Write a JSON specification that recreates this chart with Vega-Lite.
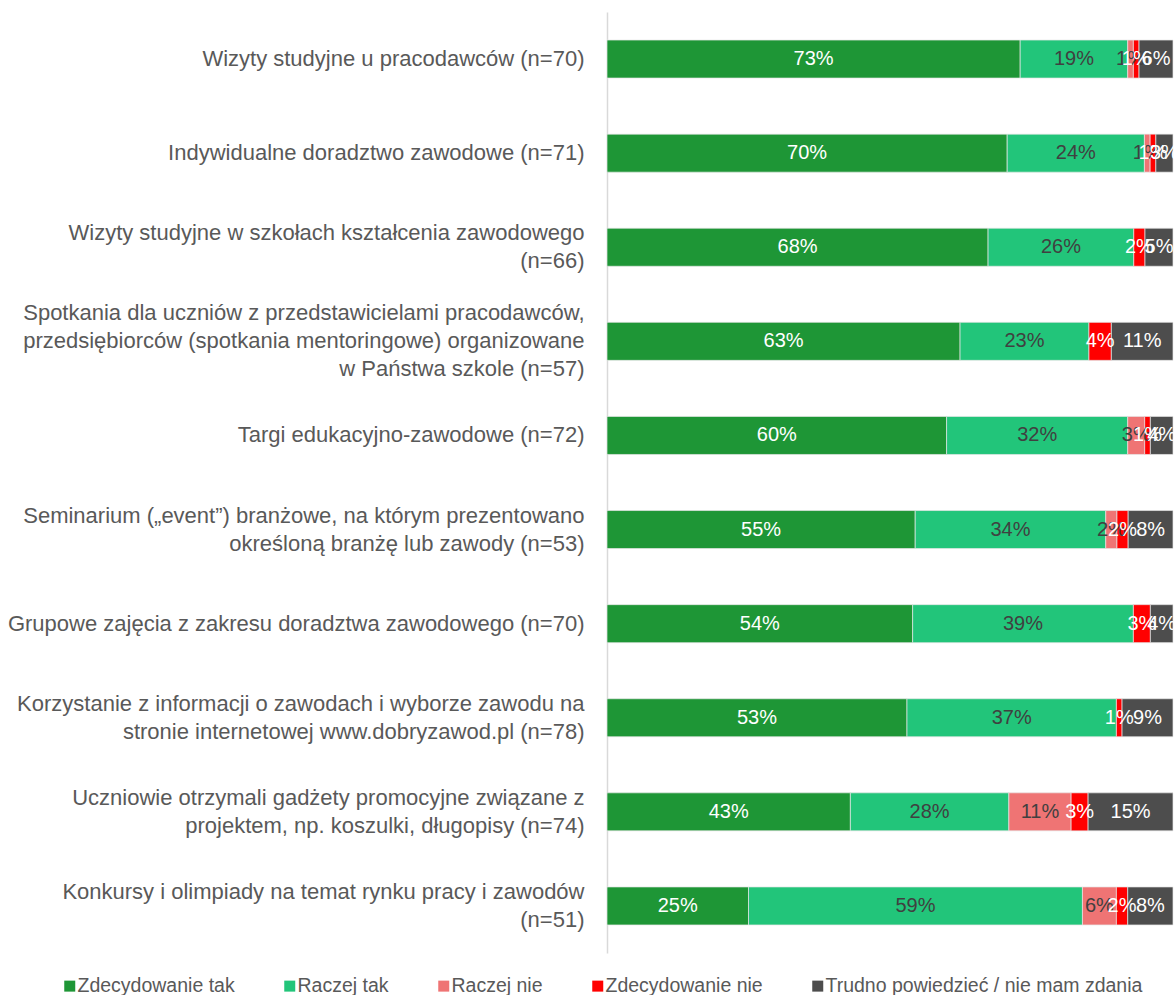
{
  "$schema": "https://vega.github.io/schema/vega-lite/v6.json",
  "width": 566,
  "height": 941,
  "autosize": "none",
  "padding": {"left": 607, "top": 12, "right": 3, "bottom": 42},
  "background": "white",
  "config": {
    "view": {"stroke": null},
    "font": "Liberation Sans",
    "text": {"font": "Liberation Sans"}
  },
  "datasets": {
    "rows": [
      {"item": "Wizyty studyjne u pracodawców (n=70)", "k": "Zdecydowanie tak", "o": 1, "v": 73},
      {"item": "Wizyty studyjne u pracodawców (n=70)", "k": "Raczej tak", "o": 2, "v": 19},
      {"item": "Wizyty studyjne u pracodawców (n=70)", "k": "Raczej nie", "o": 3, "v": 1},
      {"item": "Wizyty studyjne u pracodawców (n=70)", "k": "Zdecydowanie nie", "o": 4, "v": 1},
      {"item": "Wizyty studyjne u pracodawców (n=70)", "k": "Trudno powiedzieć / nie mam zdania", "o": 5, "v": 6},
      {"item": "Indywidualne doradztwo zawodowe (n=71)", "k": "Zdecydowanie tak", "o": 1, "v": 70},
      {"item": "Indywidualne doradztwo zawodowe (n=71)", "k": "Raczej tak", "o": 2, "v": 24},
      {"item": "Indywidualne doradztwo zawodowe (n=71)", "k": "Raczej nie", "o": 3, "v": 1},
      {"item": "Indywidualne doradztwo zawodowe (n=71)", "k": "Zdecydowanie nie", "o": 4, "v": 1},
      {"item": "Indywidualne doradztwo zawodowe (n=71)", "k": "Trudno powiedzieć / nie mam zdania", "o": 5, "v": 3},
      {"item": "Wizyty studyjne w szkołach kształcenia zawodowego\n(n=66)", "k": "Zdecydowanie tak", "o": 1, "v": 68},
      {"item": "Wizyty studyjne w szkołach kształcenia zawodowego\n(n=66)", "k": "Raczej tak", "o": 2, "v": 26},
      {"item": "Wizyty studyjne w szkołach kształcenia zawodowego\n(n=66)", "k": "Zdecydowanie nie", "o": 4, "v": 2},
      {"item": "Wizyty studyjne w szkołach kształcenia zawodowego\n(n=66)", "k": "Trudno powiedzieć / nie mam zdania", "o": 5, "v": 5},
      {"item": "Spotkania dla uczniów z przedstawicielami pracodawców,\nprzedsiębiorców (spotkania mentoringowe) organizowane\nw Państwa szkole (n=57)", "k": "Zdecydowanie tak", "o": 1, "v": 63},
      {"item": "Spotkania dla uczniów z przedstawicielami pracodawców,\nprzedsiębiorców (spotkania mentoringowe) organizowane\nw Państwa szkole (n=57)", "k": "Raczej tak", "o": 2, "v": 23},
      {"item": "Spotkania dla uczniów z przedstawicielami pracodawców,\nprzedsiębiorców (spotkania mentoringowe) organizowane\nw Państwa szkole (n=57)", "k": "Zdecydowanie nie", "o": 4, "v": 4},
      {"item": "Spotkania dla uczniów z przedstawicielami pracodawców,\nprzedsiębiorców (spotkania mentoringowe) organizowane\nw Państwa szkole (n=57)", "k": "Trudno powiedzieć / nie mam zdania", "o": 5, "v": 11},
      {"item": "Targi edukacyjno-zawodowe (n=72)", "k": "Zdecydowanie tak", "o": 1, "v": 60},
      {"item": "Targi edukacyjno-zawodowe (n=72)", "k": "Raczej tak", "o": 2, "v": 32},
      {"item": "Targi edukacyjno-zawodowe (n=72)", "k": "Raczej nie", "o": 3, "v": 3},
      {"item": "Targi edukacyjno-zawodowe (n=72)", "k": "Zdecydowanie nie", "o": 4, "v": 1},
      {"item": "Targi edukacyjno-zawodowe (n=72)", "k": "Trudno powiedzieć / nie mam zdania", "o": 5, "v": 4},
      {"item": "Seminarium („event”) branżowe, na którym prezentowano\nokreśloną branżę lub zawody (n=53)", "k": "Zdecydowanie tak", "o": 1, "v": 55},
      {"item": "Seminarium („event”) branżowe, na którym prezentowano\nokreśloną branżę lub zawody (n=53)", "k": "Raczej tak", "o": 2, "v": 34},
      {"item": "Seminarium („event”) branżowe, na którym prezentowano\nokreśloną branżę lub zawody (n=53)", "k": "Raczej nie", "o": 3, "v": 2},
      {"item": "Seminarium („event”) branżowe, na którym prezentowano\nokreśloną branżę lub zawody (n=53)", "k": "Zdecydowanie nie", "o": 4, "v": 2},
      {"item": "Seminarium („event”) branżowe, na którym prezentowano\nokreśloną branżę lub zawody (n=53)", "k": "Trudno powiedzieć / nie mam zdania", "o": 5, "v": 8},
      {"item": "Grupowe zajęcia z zakresu doradztwa zawodowego (n=70)", "k": "Zdecydowanie tak", "o": 1, "v": 54},
      {"item": "Grupowe zajęcia z zakresu doradztwa zawodowego (n=70)", "k": "Raczej tak", "o": 2, "v": 39},
      {"item": "Grupowe zajęcia z zakresu doradztwa zawodowego (n=70)", "k": "Zdecydowanie nie", "o": 4, "v": 3},
      {"item": "Grupowe zajęcia z zakresu doradztwa zawodowego (n=70)", "k": "Trudno powiedzieć / nie mam zdania", "o": 5, "v": 4},
      {"item": "Korzystanie z informacji o zawodach i wyborze zawodu na\nstronie internetowej www.dobryzawod.pl (n=78)", "k": "Zdecydowanie tak", "o": 1, "v": 53},
      {"item": "Korzystanie z informacji o zawodach i wyborze zawodu na\nstronie internetowej www.dobryzawod.pl (n=78)", "k": "Raczej tak", "o": 2, "v": 37},
      {"item": "Korzystanie z informacji o zawodach i wyborze zawodu na\nstronie internetowej www.dobryzawod.pl (n=78)", "k": "Zdecydowanie nie", "o": 4, "v": 1},
      {"item": "Korzystanie z informacji o zawodach i wyborze zawodu na\nstronie internetowej www.dobryzawod.pl (n=78)", "k": "Trudno powiedzieć / nie mam zdania", "o": 5, "v": 9},
      {"item": "Uczniowie otrzymali gadżety promocyjne związane z\nprojektem, np. koszulki, długopisy (n=74)", "k": "Zdecydowanie tak", "o": 1, "v": 43},
      {"item": "Uczniowie otrzymali gadżety promocyjne związane z\nprojektem, np. koszulki, długopisy (n=74)", "k": "Raczej tak", "o": 2, "v": 28},
      {"item": "Uczniowie otrzymali gadżety promocyjne związane z\nprojektem, np. koszulki, długopisy (n=74)", "k": "Raczej nie", "o": 3, "v": 11},
      {"item": "Uczniowie otrzymali gadżety promocyjne związane z\nprojektem, np. koszulki, długopisy (n=74)", "k": "Zdecydowanie nie", "o": 4, "v": 3},
      {"item": "Uczniowie otrzymali gadżety promocyjne związane z\nprojektem, np. koszulki, długopisy (n=74)", "k": "Trudno powiedzieć / nie mam zdania", "o": 5, "v": 15},
      {"item": "Konkursy i olimpiady na temat rynku pracy i zawodów\n(n=51)", "k": "Zdecydowanie tak", "o": 1, "v": 25},
      {"item": "Konkursy i olimpiady na temat rynku pracy i zawodów\n(n=51)", "k": "Raczej tak", "o": 2, "v": 59},
      {"item": "Konkursy i olimpiady na temat rynku pracy i zawodów\n(n=51)", "k": "Raczej nie", "o": 3, "v": 6},
      {"item": "Konkursy i olimpiady na temat rynku pracy i zawodów\n(n=51)", "k": "Zdecydowanie nie", "o": 4, "v": 2},
      {"item": "Konkursy i olimpiady na temat rynku pracy i zawodów\n(n=51)", "k": "Trudno powiedzieć / nie mam zdania", "o": 5, "v": 8}
    ]
  },
  "data": {"name": "rows"},
  "encoding": {
    "y": {
      "field": "item",
      "type": "nominal",
      "sort": null,
      "title": null,
      "scale": {"paddingInner": 0.596, "paddingOuter": 0.298},
      "axis": {
        "labelExpr": "split(datum.label, '\\n')",
        "labelFont": "Liberation Sans",
        "labelFontSize": 22,
        "labelColor": "#595959",
        "labelLineHeight": 28,
        "labelOffset": {"expr": "-(length(split(datum.label, '\\n')) - 1) * 14"},
        "labelPadding": 23,
        "labelLimit": 700,
        "ticks": false,
        "domainColor": "#d9d9d9",
        "domainWidth": 1.5
      }
    },
    "x": {
      "field": "v",
      "type": "quantitative",
      "stack": "normalize",
      "axis": null
    },
    "order": {"field": "o", "type": "quantitative"}
  },
  "layer": [
    {
      "mark": {"type": "bar", "stroke": "#e6e6e6", "strokeWidth": 0.7},
      "encoding": {
        "color": {
          "field": "k",
          "type": "nominal",
          "sort": ["Zdecydowanie tak", "Raczej tak", "Raczej nie", "Zdecydowanie nie", "Trudno powiedzieć / nie mam zdania"],
          "scale": {
            "domain": ["Zdecydowanie tak", "Raczej tak", "Raczej nie", "Zdecydowanie nie", "Trudno powiedzieć / nie mam zdania"],
            "range": ["#1e9636", "#22c57a", "#ef7474", "#ff0000", "#4d4d4d"]
          },
          "legend": {
            "title": null,
            "orient": "none",
            "legendX": -547,
            "legendY": 964,
            "direction": "horizontal",
            "symbolType": "square",
            "symbolSize": 121,
            "symbolStrokeWidth": 0,
            "labelFont": "Liberation Sans",
            "labelFontSize": 19.5,
            "labelColor": "#595959",
            "labelOffset": -2,
            "columnPadding": 45,
            "labelLimit": 500
          }
        }
      }
    },
    {
      "mark": {"type": "text", "font": "Liberation Sans", "fontSize": 20, "text": {"expr": "datum.v + '%'"}},
      "encoding": {
        "x": {"field": "v", "type": "quantitative", "stack": "normalize", "bandPosition": 0.5},
        "detail": {"field": "k"},
        "color": {
          "condition": {"test": "datum.k == 'Raczej tak' || datum.k == 'Raczej nie'", "value": "#404040"},
          "value": "#ffffff"
        }
      }
    }
  ]
}
